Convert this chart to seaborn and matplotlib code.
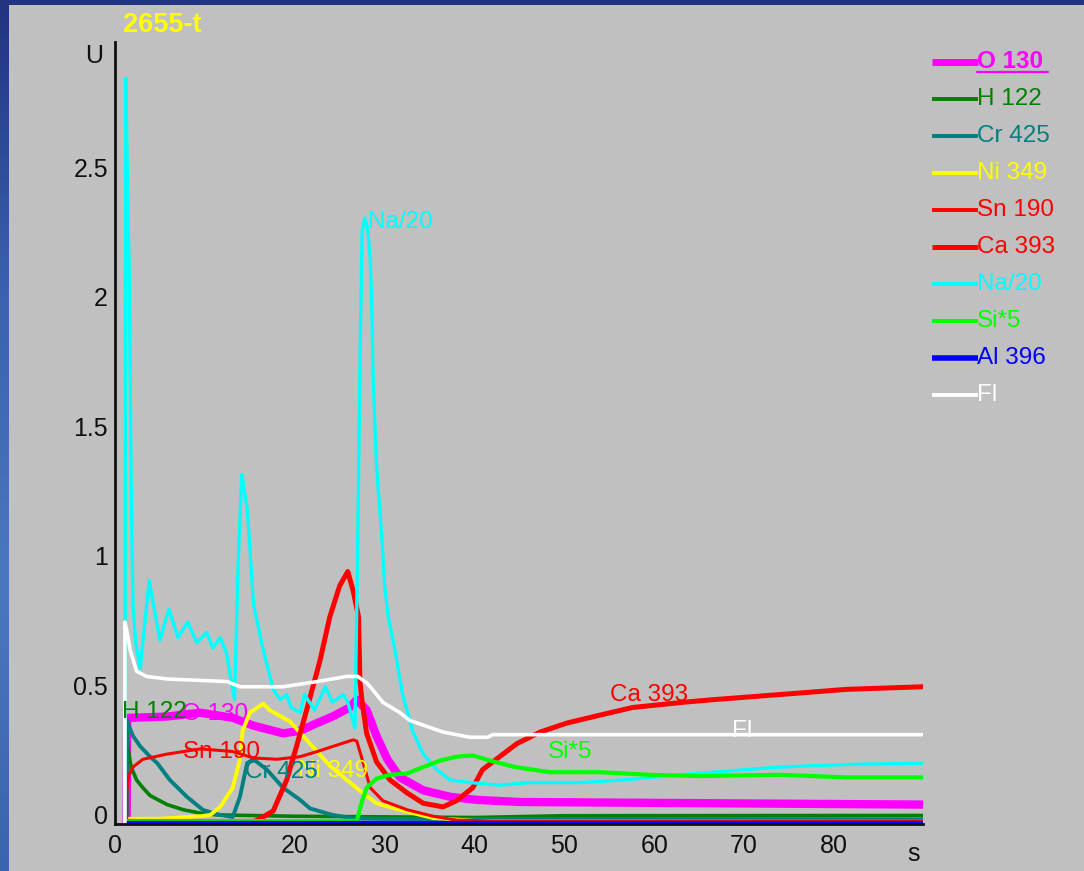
import numpy as np
import pandas as pd
import matplotlib
matplotlib.use("Agg")
import matplotlib.pyplot as plt
from matplotlib.lines import Line2D
from matplotlib.patches import Rectangle
from matplotlib.colors import LinearSegmentedColormap
import matplotlib.transforms as mtransforms
import seaborn as sns

# ---------------- data ----------------
title = "2655-t"
names = ["O 130", "H 122", "Cr 425", "Ni 349", "Sn 190", "Ca 393", "Na/20", "Si*5", "Al 396", "Fl"]
colors = ["#FF00FF", "#008000", "#008080", "#FFFF00", "#FF0000", "#FF0000",
          "#00FFFF", "#00FF00", "#0000FF", "#FFFFFF"]

o_x = [1.3, 1.35, 1.7, 5.8, 9.5, 13.1, 15.4, 18.7, 20.6, 22.5, 24.2, 26.1, 26.9, 28.0, 29.1, 30.3, 31.7, 34.3, 37.3, 40.3, 45, 89.9]
o_y = [0.0, 0.41, 0.41, 0.415, 0.43, 0.41, 0.38, 0.35, 0.36, 0.39, 0.415, 0.45, 0.48, 0.44, 0.34, 0.25, 0.18, 0.13, 0.105, 0.093, 0.085, 0.075]

h_x = [1.3, 1.3, 1.5, 1.8, 2.4, 3.1, 3.9, 4.7, 5.8, 7.6, 9.5, 11.3, 20, 40, 50, 89.9]
h_y = [0.0, 0.36, 0.28, 0.22, 0.17, 0.14, 0.11, 0.095, 0.075, 0.055, 0.042, 0.035, 0.03, 0.025, 0.032, 0.033]

cr_x = [1.3, 1.3, 2.0, 2.8, 3.9, 4.7, 6.1, 8.0, 9.8, 11.7, 13.1, 13.9, 14.7, 15.4, 16.9, 18.7, 20.6, 21.7, 24.2, 26.5, 30, 89.9]
cr_y = [0.0, 0.40, 0.34, 0.30, 0.26, 0.235, 0.17, 0.105, 0.054, 0.035, 0.027, 0.105, 0.235, 0.25, 0.21, 0.14, 0.093, 0.06, 0.035, 0.022, 0.02, 0.018]

ni_x = [1.3, 1.3, 5, 9.5, 10.6, 11.7, 13.1, 13.9, 14.2, 15.0, 16.5, 17.2, 19.5, 21.7, 23.9, 25.8, 27.2, 29.1, 31.7, 35.4, 40, 89.9]
ni_y = [0.0, 0.02, 0.02, 0.03, 0.035, 0.066, 0.14, 0.25, 0.36, 0.43, 0.465, 0.44, 0.395, 0.31, 0.225, 0.17, 0.13, 0.08, 0.055, 0.023, 0.012, 0.01]

sn_x = [1.3, 1.3, 1.45, 2.0, 3.1, 5.8, 9.5, 13.1, 15.4, 18.0, 20.6, 22.5, 26.5, 26.9, 27.5, 28.4, 29.8, 32.5, 35.4, 38.0, 42.0, 89.9]
sn_y = [0.0, 0.12, 0.18, 0.22, 0.25, 0.27, 0.29, 0.28, 0.255, 0.25, 0.26, 0.28, 0.325, 0.32, 0.25, 0.14, 0.09, 0.055, 0.03, 0.015, 0.012, 0.012]

ca_x = [1.3, 15.5, 16.1, 17.6, 19.1, 20.2, 21.4, 22.8, 23.9, 25.0, 25.9, 26.5, 27.1, 27.25, 27.5, 28.0, 29.1, 30.6, 32.5, 34.3, 36.5, 38.0, 39.8, 40.9, 42.8, 44.7, 47.3, 50.3, 53.9, 57.6, 63.2, 66.5, 74, 81.4, 89.9]
ca_y = [0.01, 0.01, 0.02, 0.05, 0.17, 0.30, 0.45, 0.63, 0.80, 0.92, 0.975, 0.90, 0.80, 0.55, 0.47, 0.35, 0.24, 0.17, 0.12, 0.08, 0.066, 0.09, 0.14, 0.21, 0.26, 0.31, 0.355, 0.39, 0.42, 0.45, 0.47, 0.48, 0.50, 0.52, 0.53]

na_x = [1.1, 1.2, 1.45, 1.6, 1.8, 2.0, 2.3, 2.8, 3.8, 5.0, 6.0, 7.0, 8.1, 9.1, 10.2, 10.9, 11.7, 12.4, 13.3, 13.7, 14.1, 14.7, 15.0, 15.4, 16.5, 17.6, 18.4, 19.1, 19.6, 20.6, 21.1, 22.2, 23.4, 24.2, 25.4, 25.9, 26.7, 27.0, 27.3, 27.5, 27.8, 28.1, 28.4, 28.6, 28.7, 28.9, 29.1, 29.4, 29.7, 30.0, 30.4, 31.1, 32.0, 33.1, 34.3, 35.8, 37.3, 39.5, 42.8, 46.2, 52.0, 56.5, 62.8, 74.0, 81.4, 89.9]
na_y = [0.0, 2.88, 2.36, 2.11, 1.30, 0.85, 0.70, 0.60, 0.94, 0.71, 0.83, 0.72, 0.78, 0.70, 0.74, 0.68, 0.72, 0.66, 0.48, 1.0, 1.35, 1.22, 1.07, 0.85, 0.67, 0.52, 0.48, 0.50, 0.45, 0.43, 0.50, 0.44, 0.53, 0.47, 0.50, 0.47, 0.37, 1.07, 1.88, 2.29, 2.34, 2.30, 2.18, 1.96, 1.75, 1.56, 1.38, 1.24, 1.10, 0.92, 0.80, 0.68, 0.50, 0.36, 0.27, 0.21, 0.17, 0.16, 0.15, 0.16, 0.16, 0.17, 0.19, 0.22, 0.23, 0.235]

si_x = [1.3, 26.9, 27.5, 28.0, 29.1, 30.6, 32.5, 34.3, 36.2, 38.0, 39.8, 41.7, 44.5, 48.4, 53.9, 59.5, 65.1, 74, 81.4, 89.9]
si_y = [0.01, 0.012, 0.09, 0.14, 0.175, 0.19, 0.195, 0.22, 0.245, 0.26, 0.265, 0.245, 0.22, 0.20, 0.20, 0.19, 0.185, 0.19, 0.18, 0.18]

al_x = [1.3, 89.9]
al_y = [0.006, 0.006]

fl_x = [1.1, 1.1, 1.4, 1.7, 2.4, 3.5, 5.8, 12.5, 13.9, 18.7, 22.5, 25.8, 27.0, 28.0, 28.4, 29.8, 31.7, 32.8, 36.5, 39.5, 41.5, 42.0, 66.0, 89.9]
fl_y = [0.0, 0.78, 0.73, 0.67, 0.59, 0.57, 0.56, 0.55, 0.53, 0.53, 0.55, 0.57, 0.57, 0.545, 0.53, 0.47, 0.43, 0.40, 0.355, 0.335, 0.335, 0.345, 0.345, 0.345]

series_x = [o_x, h_x, cr_x, ni_x, sn_x, ca_x, na_x, si_x, al_x, fl_x]
series_y = [o_y, h_y, cr_y, ni_y, sn_y, ca_y, na_y, si_y, al_y, fl_y]

# in-plot labels (x, y) anchored at left / centre
label_pos = {
    "O 130": (7.4, 0.425), "H 122": (0.8, 0.432), "Cr 425": (14.5, 0.20),
    "Ni 349": (20.4, 0.205), "Sn 190": (7.6, 0.278), "Ca 393": (55.1, 0.50),
    "Na/20": (28.1, 2.325), "Si*5": (48.2, 0.278), "Fl": (68.6, 0.36),
}
label_z = {"O 130": 2.5, "Cr 425": 4.3, "Ni 349": 4.1}

x_ticks = [0, 10, 20, 30, 40, 50, 60, 70, 80]
y_ticks = [0, 0.5, 1, 1.5, 2, 2.5]
y_tick_labels = ["0", "0.5", "1", "1.5", "2", "2.5"]

# ---------------- styling ----------------
sns.set_style("white")
FONT = ["Liberation Sans", "DejaVu Sans"]
plt.rcParams["font.family"] = FONT

W, H = 1084, 871
fig = plt.figure(figsize=(W / 100, H / 100), dpi=100)
fig.patch.set_facecolor("#C0C0C0")

# blue slide border (left & top)
bg = fig.add_axes([0, 0, 1, 1], zorder=-10)
bg.set_axis_off()
grad = np.linspace(0, 1, 256)[:, None]
cmap = LinearSegmentedColormap.from_list("bl", ["#22337f", "#3a62ae", "#4a78bd", "#3a64ad"])
bg.imshow(grad, aspect="auto", cmap=cmap, extent=[0, 1, 0, 1], transform=bg.transAxes)
bg.add_patch(Rectangle((9 / W, 0), 1, 1 - 5 / H, transform=bg.transAxes,
                       facecolor="#C0C0C0", edgecolor="none"))
bg.set_xlim(0, 1); bg.set_ylim(0, 1)

ax = fig.add_axes([115 / W, 47 / H, 808 / W, 782 / H])
ax.set_facecolor("none")

widths = [6.0, 2.6, 2.8, 2.8, 2.2, 3.6, 2.4, 3.0, 2.4, 2.6]
for i, (nm, xs, ys) in enumerate(zip(names, series_x, series_y)):
    df = pd.DataFrame({"x": xs, "y": ys})
    sns.lineplot(data=df, x="x", y="y", ax=ax, color=colors[i], lw=widths[i],
                 sort=False, estimator=None, zorder=3 + i * 0.1)

for i, nm in enumerate(names):
    if nm in label_pos:
        x0, y0 = label_pos[nm]
        ax.text(x0, y0, nm, color=colors[i], fontsize=17.5, ha="left", va="center",
                zorder=label_z.get(nm, 4))

ax.set_xlim(0, 89.9)
ax.set_ylim(0, 3.02)
ax.set_xlabel("")
ax.set_ylabel("")
for s in ["top", "right"]:
    ax.spines[s].set_visible(False)
for s in ["left", "bottom"]:
    ax.spines[s].set_color("#101010")
    ax.spines[s].set_linewidth(2.0)
    ax.spines[s].set_zorder(5)
ax.set_xticks(x_ticks)
ax.set_xticklabels([str(v) for v in x_ticks])
ax.set_yticks(y_ticks)
ax.set_yticklabels(y_tick_labels)
ax.tick_params(axis="x", direction="inout", length=10, width=1.5, color="#101010",
               labelsize=18, labelcolor="#101010", pad=2)
ax.tick_params(axis="y", direction="inout", length=8, width=1.5, color="#101010",
               labelsize=18, labelcolor="#101010", pad=1)
plt.setp(ax.get_yticklabels(), va="baseline")

trans_y = mtransforms.blended_transform_factory(ax.transAxes, ax.transData)
ax.text(-12 / 808, 2.965, "U", transform=trans_y, ha="right", va="center",
        fontsize=18, color="#101010")
trans_x = mtransforms.blended_transform_factory(ax.transData, ax.transAxes)
ax.text(88.9, -18 / 782, "s", transform=trans_x, ha="center", va="top",
        fontsize=18, color="#101010", clip_on=False)

fig.text(162 / W, 1 - 25 / H, title, color="#FFFF00", fontsize=19.5,
         fontweight="bold", ha="center", va="center")

# legend on the right
leg_lw = [5.0, 2.8, 2.8, 2.8, 2.8, 3.6, 2.8, 2.8, 4.0, 2.8]
for i, nm in enumerate(names):
    yc = 1 - (62 + 37.0 * i) / H
    fig.add_artist(Line2D([932 / W, 978 / W], [yc, yc], color=colors[i],
                          lw=leg_lw[i], solid_capstyle="butt"))
    fig.text(977 / W, yc, nm, color=colors[i], fontsize=17.5, ha="left", va="center",
             fontweight="bold" if i == 0 else "normal")
# underline for highlighted entry
fig.add_artist(Line2D([977 / W, 1048 / W], [1 - 72.5 / H, 1 - 72.5 / H],
                      color=colors[0], lw=1.6))

fig.savefig("out.png", dpi=100, facecolor=fig.get_facecolor())
